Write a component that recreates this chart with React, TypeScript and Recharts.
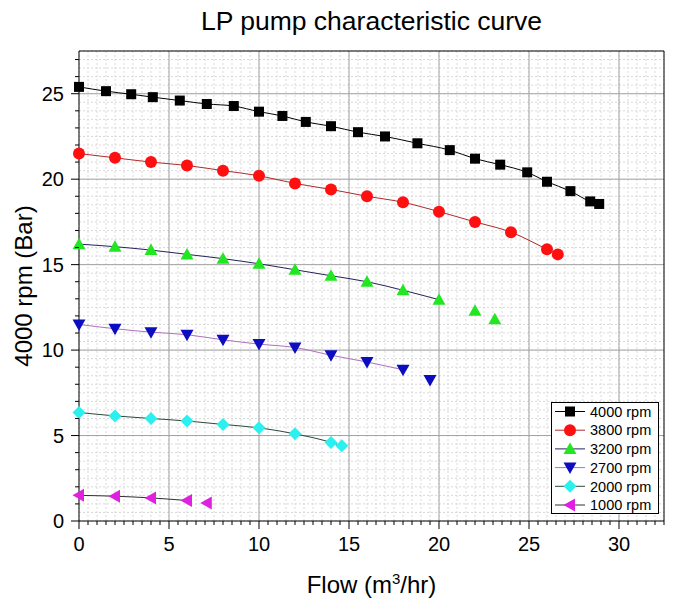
import React from "react";
import {
  ComposedChart,
  Line,
  Scatter,
  XAxis,
  YAxis,
  CartesianGrid,
  ReferenceLine,
  Legend,
} from "recharts";

const FONT = '"Liberation Sans", Arial, sans-serif';

// axes
const X_MAX = 32.5;
const Y_MAX = 27.5;
const X_MAJOR = [5, 10, 15, 20, 25, 30];
const Y_MAJOR = [5, 10, 15, 20, 25];
// every half unit: used for the dashed grid and the small tick marks
const X_TICKS = Array.from({ length: 66 }, (_, i) => i * 0.5);
const Y_TICKS = Array.from({ length: 56 }, (_, i) => i * 0.5);

const FLOW_4000 = [0, 1.5, 2.9, 4.1, 5.6, 7.1, 8.6, 10, 11.3, 12.6, 14, 15.5, 17, 18.8, 20.6, 22, 23.4, 24.9, 26, 27.3, 28.4, 28.9];
const HEAD_4000 = [25.4, 25.15, 24.97, 24.8, 24.6, 24.4, 24.28, 23.95, 23.7, 23.35, 23.1, 22.75, 22.5, 22.1, 21.7, 21.2, 20.85, 20.4, 19.85, 19.3, 18.7, 18.55];

const FLOW_3800 = [0, 2, 4, 6, 8, 10, 12, 14, 16, 18, 20, 22, 24, 26, 26.6];
const HEAD_3800 = [21.5, 21.25, 21.0, 20.8, 20.5, 20.2, 19.75, 19.4, 19.0, 18.65, 18.1, 17.5, 16.9, 15.9, 15.6];

const FLOW_3200 = [0, 2, 4, 6, 8, 10, 12, 14, 16, 18, 20, 22, 23.1];
const HEAD_3200 = [16.2, 16.05, 15.85, 15.6, 15.35, 15.05, 14.7, 14.35, 14.0, 13.5, 12.95, 12.3, 11.8];

const FLOW_2700 = [0, 2, 4, 6, 8, 10, 12, 14, 16, 18, 19.5];
const HEAD_2700 = [11.5, 11.25, 11.05, 10.9, 10.6, 10.35, 10.15, 9.7, 9.3, 8.85, 8.25];

const FLOW_2000 = [0, 2, 4, 6, 8, 10, 12, 14, 14.6];
const HEAD_2000 = [6.35, 6.15, 6.0, 5.85, 5.65, 5.45, 5.1, 4.6, 4.4];

const FLOW_1000 = [0, 2, 4, 6, 7.1];
const HEAD_1000 = [1.5, 1.45, 1.35, 1.2, 1.05];

// how many of the points the fitted curve runs through
const FIT_POINTS = [22, 15, 11, 10, 9, 4];

const SPEEDS = ["4000 rpm", "3800 rpm", "3200 rpm", "2700 rpm", "2000 rpm", "1000 rpm"];

type Kind = "square" | "circle" | "up" | "down" | "diamond" | "left";

const toPoints = (flow: number[], head: number[]) =>
  flow.map((f, i) => ({ flow: f, head: head[i] }));

const SERIES = [
  { pts: toPoints(FLOW_4000, HEAD_4000), kind: "square" as Kind, fill: "#000000", line: "#000000" },
  { pts: toPoints(FLOW_3800, HEAD_3800), kind: "circle" as Kind, fill: "#ff1010", line: "#b02a2a" },
  { pts: toPoints(FLOW_3200, HEAD_3200), kind: "up" as Kind, fill: "#22e622", line: "#23235e" },
  { pts: toPoints(FLOW_2700, HEAD_2700), kind: "down" as Kind, fill: "#0c0cc0", line: "#b070c0" },
  { pts: toPoints(FLOW_2000, HEAD_2000), kind: "diamond" as Kind, fill: "#2cf0f0", line: "#2a4a3a" },
  { pts: toPoints(FLOW_1000, HEAD_1000), kind: "left" as Kind, fill: "#e020e0", line: "#303030" },
].map((s, i) => ({ ...s, name: SPEEDS[i], fit: s.pts.slice(0, FIT_POINTS[i]) }));

function Marker({ cx, cy, kind, fill }: { cx: number; cy: number; kind: Kind; fill: string }) {
  if (cx == null || cy == null) return <g />;
  switch (kind) {
    case "square":
      return <rect x={cx - 5} y={cy - 5} width={10} height={10} fill={fill} />;
    case "circle":
      return <circle cx={cx} cy={cy} r={6} fill={fill} />;
    case "up":
      return <polygon points={`${cx},${cy - 6.5} ${cx + 6.5},${cy + 5} ${cx - 6.5},${cy + 5}`} fill={fill} />;
    case "down":
      return <polygon points={`${cx},${cy + 6.5} ${cx + 6.5},${cy - 5} ${cx - 6.5},${cy - 5}`} fill={fill} />;
    case "diamond":
      return <polygon points={`${cx},${cy - 6.5} ${cx + 6.5},${cy} ${cx},${cy + 6.5} ${cx - 6.5},${cy}`} fill={fill} />;
    default:
      return <polygon points={`${cx - 6.5},${cy} ${cx + 5},${cy - 6.5} ${cx + 5},${cy + 6.5}`} fill={fill} />;
  }
}

function XTick(props: any) {
  const { x, y, payload } = props;
  const v = payload.value;
  const major = v % 5 === 0;
  return (
    <g>
      <line x1={x} y1={y} x2={x} y2={y + (major ? 8 : 4)} stroke="#000" />
      {major && (
        <text x={x} y={y + 30} textAnchor="middle" fontSize={20} fontFamily={FONT} fill="#000">
          {v}
        </text>
      )}
    </g>
  );
}

function YTick(props: any) {
  const { x, y, payload } = props;
  const v = payload.value;
  if (!Number.isInteger(v)) return <g />;
  const major = v % 5 === 0;
  return (
    <g>
      <line x1={x - (major ? 8 : 4)} y1={y} x2={x} y2={y} stroke="#000" />
      {major && (
        <text x={x - 15} y={y} dy="0.36em" textAnchor="end" fontSize={20} fontFamily={FONT} fill="#000">
          {v}
        </text>
      )}
    </g>
  );
}

function LegendBox() {
  return (
    <svg width={108} height={112} style={{ display: "block" }}>
      <rect x={0.5} y={0.5} width={107} height={111} fill="#fff" stroke="#000" />
      {SERIES.map((s, i) => {
        const cy = 9.5 + i * 18.7;
        return (
          <g key={s.name}>
            <line x1={4} x2={34} y1={cy} y2={cy} stroke={s.line} />
            <Marker cx={19} cy={cy} kind={s.kind} fill={s.fill} />
            <text x={39} y={cy} dy="0.36em" fontSize={14.5} fontFamily={FONT} fill="#000">
              {s.name}
            </text>
          </g>
        );
      })}
    </svg>
  );
}

export default function App() {
  return (
    <div style={{ position: "absolute", left: 0, top: 0, width: 681, height: 610, background: "#fff" }}>
      <div
        style={{
          position: "absolute",
          left: 79,
          width: 585,
          top: 8,
          textAlign: "center",
          fontFamily: FONT,
          fontSize: 26.5,
          lineHeight: "27px",
          color: "#000",
        }}
      >
        LP pump characteristic curve
      </div>
      <ComposedChart width={681} height={610} margin={{ top: 51, right: 17, bottom: 29, left: 0 }}>
        <CartesianGrid stroke="#d9d9d9" strokeDasharray="2 2" />
        {X_MAJOR.map((v) => (
          <ReferenceLine key={`x${v}`} x={v} stroke="#a3a3a3" />
        ))}
        {Y_MAJOR.map((v) => (
          <ReferenceLine key={`y${v}`} y={v} stroke="#a3a3a3" />
        ))}
        <ReferenceLine x={X_MAX} stroke="#000" />
        <ReferenceLine y={Y_MAX} stroke="#000" />
        <XAxis
          dataKey="flow"
          type="number"
          domain={[0, X_MAX]}
          ticks={X_TICKS}
          interval={0}
          tickSize={0}
          tickMargin={0}
          tickLine={false}
          tick={XTick}
          height={60}
          axisLine={{ stroke: "#000" }}
          label={{
            content: (p: any) => {
              const vb = p.viewBox;
              return (
                <text x={vb.x + vb.width / 2} y={vb.y + 71.5} textAnchor="middle" fontSize={24} fontFamily={FONT} fill="#000">
                  Flow (m
                  <tspan dy={-9} fontSize={15}>3</tspan>
                  <tspan dy={9}>/hr)</tspan>
                </text>
              );
            },
          }}
        />
        <YAxis
          dataKey="head"
          type="number"
          domain={[0, Y_MAX]}
          ticks={Y_TICKS}
          interval={0}
          tickSize={0}
          tickMargin={0}
          tickLine={false}
          tick={YTick}
          width={79}
          axisLine={{ stroke: "#000" }}
          label={{
            content: (p: any) => {
              const vb = p.viewBox;
              const cx = vb.x + 32;
              const cy = vb.y + vb.height / 2;
              return (
                <text x={cx} y={cy} transform={`rotate(-90 ${cx} ${cy})`} textAnchor="middle" fontSize={24} fontFamily={FONT} fill="#000">
                  4000 rpm (Bar)
                </text>
              );
            },
          }}
        />
        {SERIES.map((s) => (
          <Line
            key={`l${s.name}`}
            data={s.fit}
            dataKey="head"
            type="monotone"
            stroke={s.line}
            strokeWidth={1}
            dot={false}
            activeDot={false}
            legendType="none"
            isAnimationActive={false}
          />
        ))}
        {SERIES.map((s) => (
          <Scatter
            key={`s${s.name}`}
            name={s.name}
            data={s.pts}
            dataKey="head"
            fill={s.fill}
            shape={(p: any) => <Marker cx={p.cx} cy={p.cy} kind={s.kind} fill={s.fill} />}
            isAnimationActive={false}
          />
        ))}
        <Legend
          layout="vertical"
          align="center"
          verticalAlign="middle"
          content={() => <LegendBox />}
          wrapperStyle={{ left: 551, top: 402, width: 108, height: 112 }}
        />
      </ComposedChart>
    </div>
  );
}
